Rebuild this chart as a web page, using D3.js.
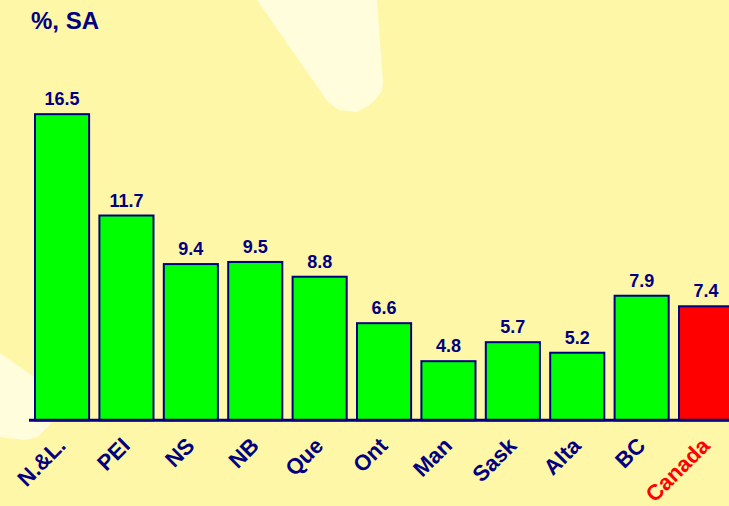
<!DOCTYPE html>
<html lang="en">
<head>
<meta charset="utf-8">
<title>Unemployment rate by province</title>
<script src="https://cdn.jsdelivr.net/npm/d3@7"></script>
<style>
  html, body { margin: 0; padding: 0; background: #fff7a8; }
  svg { display: block; font-family: Arial, "Liberation Sans", sans-serif; }
</style>
</head>
<body>
<div id="chart"></div>
<script>
// data
var provinces = ["N.&L.", "PEI", "NS", "NB", "Que", "Ont", "Man", "Sask", "Alta", "BC", "Canada"];
var rates     = [16.5, 11.7, 9.4, 9.5, 8.8, 6.6, 4.8, 5.7, 5.2, 7.9, 7.4];
var unitLabel = "%, SA";

var width = 729,
    height = 506,
    navy = "#000080";

var svg = d3.select("#chart")
  .append("svg")
    .attr("width", width)
    .attr("height", height);

// background
svg.append("rect")
    .attr("width", width)
    .attr("height", height)
    .attr("fill", "#fff7a8");

// light decorative shapes behind the chart
var deco = svg.append("g").attr("fill", "#fffddc");
deco.append("path")
    .attr("d", "M257,0 L328,102 L339,110 L357,112 L368,106 L375,100 L382,91 L383,82 L377,0 Z");
deco.append("path")
    .attr("d", "M0,353 L40,381 L60,396 L55,418 L47,428 L37,437 L25,440 L0,437 Z");

var x = d3.scaleBand()
    .domain(provinces)
    .range([29.85, 738.25])
    .paddingInner(0.16)
    .paddingOuter(0.08);

var y = d3.scaleLinear()
    .domain([2, 18])
    .range([420.3, 82.5]);

var rows = provinces.map(function(p, i) { return { name: p, value: rates[i] }; });

// bars
svg.append("g")
  .selectAll("rect")
    .data(rows)
  .enter().append("rect")
    .attr("x", function(d) { return x(d.name); })
    .attr("y", function(d) { return y(d.value); })
    .attr("width", x.bandwidth())
    .attr("height", function(d) { return y(2) - y(d.value); })
    .attr("fill", function(d) { return d.name == "Canada" ? "#ff0000" : "#00ff00"; })
    .attr("stroke", navy)
    .attr("stroke-width", 2);

// value labels
svg.append("g")
  .selectAll("text")
    .data(rows)
  .enter().append("text")
    .attr("x", function(d) { return x(d.name) + x.bandwidth() / 2; })
    .attr("y", function(d) { return y(d.value) - 9; })
    .attr("text-anchor", "middle")
    .attr("font-size", 18)
    .attr("font-weight", "bold")
    .attr("fill", navy)
    .text(function(d) { return d.value.toFixed(1); });

// baseline
svg.append("line")
    .attr("x1", 29)
    .attr("x2", width)
    .attr("y1", y(2))
    .attr("y2", y(2))
    .attr("stroke", navy)
    .attr("stroke-width", 3);

// category labels
svg.append("g")
  .selectAll("text")
    .data(rows)
  .enter().append("text")
    .attr("transform", function(d) {
      return "translate(" + (x(d.name) + x.bandwidth() / 2 + 5) + ",447) rotate(-45)";
    })
    .attr("text-anchor", "end")
    .attr("font-size", 22)
    .attr("font-weight", "bold")
    .attr("fill", function(d) { return d.name == "Canada" ? "#ff0000" : navy; })
    .text(function(d) { return d.name; });

// unit label
svg.append("text")
    .attr("x", 31)
    .attr("y", 29)
    .attr("font-size", 24)
    .attr("font-weight", "bold")
    .attr("fill", navy)
    .text(unitLabel);
</script>
</body>
</html>
